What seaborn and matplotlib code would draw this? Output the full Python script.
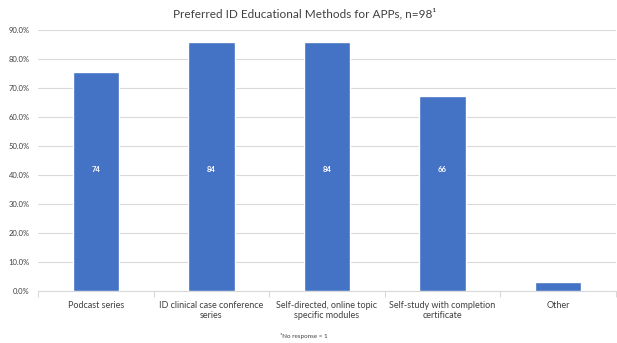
import matplotlib
matplotlib.use("Agg")
import matplotlib.pyplot as plt
import seaborn as sns
import pandas as pd
from matplotlib.ticker import FuncFormatter, FixedLocator

categories = ["Podcast series", "ID clinical case conference\nseries",
              "Self-directed, online topic\nspecific modules",
              "Self-study with completion\ncertificate", "Other"]
percents = [75.5, 85.7, 85.7, 67.3, 3.1]
counts = [74, 84, 84, 66, None]
yticks = [0, 10, 20, 30, 40, 50, 60, 70, 80, 90]
title = "Preferred ID Educational Methods for APPs, n=98\u00b9"
footnote = "\u00b9No response = 1"

sns.set_theme(style="white")
plt.rcParams['font.family'] = ['Lato', 'DejaVu Sans']

df = pd.DataFrame({"cat": categories, "pct": percents})
fig = plt.figure(figsize=(6.17, 3.43), dpi=100)
ax = fig.add_axes([38/617, 1-291/343, (616-38)/617, (291-30)/343])
sns.barplot(data=df, x="cat", y="pct", color="#4472C4", width=0.4, ax=ax,
            saturation=1, zorder=3)
ax.set_ylim(0, 90)
ax.set_xlim(-0.5, 4.5)
ax.set_yticks(yticks)
ax.yaxis.set_major_formatter(FuncFormatter(lambda v, p: f"{v:.1f}%"))
ax.yaxis.grid(True, color="#D9D9D9", linewidth=0.8, zorder=0)
ax.set_xlabel("")
ax.set_ylabel("")
for s in ["top", "right", "left"]:
    ax.spines[s].set_visible(False)
ax.spines["bottom"].set_color("#D9D9D9")
ax.spines["bottom"].set_linewidth(0.8)
ax.tick_params(axis="y", labelsize=5.5, length=0, pad=6, colors="#404040")
ax.tick_params(axis="x", labelsize=6.5, length=0, pad=7, colors="#404040")
ax.xaxis.set_minor_locator(FixedLocator([-0.5, 0.5, 1.5, 2.5, 3.5, 4.5]))
ax.tick_params(axis="x", which="minor", length=4, color="#D9D9D9", width=0.8, bottom=True)
for i, c in enumerate(counts):
    if c is not None:
        ax.text(i, 42, str(c), ha="center", va="center", color="white", fontsize=5.5,
                fontweight="bold", zorder=4)
fig.text(305/617, 1-14/343, title, ha="center", va="center", fontsize=8.5, color="#404040")
fig.text(304/617, 1-336/343, footnote, ha="center", va="center", fontsize=4.5, color="#404040")
fig.savefig("out.png", dpi=100)
